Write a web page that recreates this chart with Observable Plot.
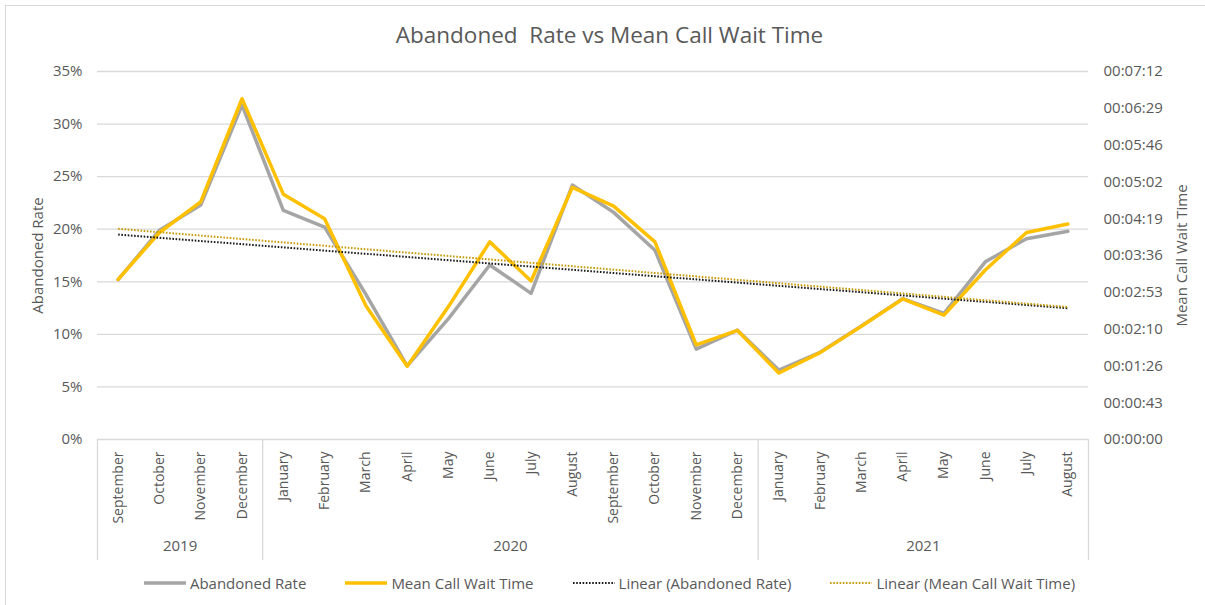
<!DOCTYPE html>
<html>
<head>
<meta charset="utf-8">
<script src="https://cdn.jsdelivr.net/npm/d3@7"></script>
<script src="https://cdn.jsdelivr.net/npm/@observablehq/plot@0.6"></script>
<style>
  html, body { margin: 0; padding: 0; background: #fff; }
  body { width: 1205px; height: 605px; position: relative; overflow: hidden; font-family: "Open Sans", sans-serif; color: #595959; }
  #frame { position: absolute; left: 5px; top: 5px; width: 1400px; height: 800px; border-left: 1.5px solid #d9d9d9; border-top: 1.5px solid #d9d9d9; }
  #title { position: absolute; left: 0; top: 20px; width: 1205px; padding-left: 14px; box-sizing: border-box; text-align: center; font-size: 22.5px; line-height: 30px; white-space: pre; }
  #chart { position: absolute; left: 0; top: 55px; }
  #legend { position: absolute; left: 0; top: 572px; width: 1205px; display: flex; justify-content: center; gap: 39px; font-size: 15px; line-height: 22px; padding-left: 14px; box-sizing: border-box; }
  .item { display: flex; align-items: center; gap: 4px; }
</style>
</head>
<body>
<div id="frame"></div>
<div id="title">Abandoned  Rate vs Mean Call Wait Time</div>
<div id="chart"></div>
<div id="legend"></div>
<script>
// ---- data ----
const monthNames = ["September","October","November","December",
  "January","February","March","April","May","June","July","August","September","October","November","December",
  "January","February","March","April","May","June","July","August"];
const monthYears = ["2019","2019","2019","2019",
  "2020","2020","2020","2020","2020","2020","2020","2020","2020","2020","2020","2020",
  "2021","2021","2021","2021","2021","2021","2021","2021"];
// Abandoned rate, percent
const abandonedRate = [15.2, 19.9, 22.3, 31.8,
  21.8, 20.2, 13.8, 7.0, 11.5, 16.6, 13.9, 24.2, 21.6, 18.0, 8.6, 10.4,
  6.6, 8.3, 10.8, 13.4, 12.0, 16.9, 19.1, 19.8];
// Mean call wait time, seconds
const waitSeconds = [188, 243, 279, 400,
  288, 259, 157, 86, 156, 232, 186, 296, 274, 232, 111, 128,
  78, 102, 133, 165, 146, 199, 243, 253];
const leftTicks = [0, 5, 10, 15, 20, 25, 30, 35];
const rightTickLabels = ["00:00:00","00:00:43","00:01:26","00:02:10","00:02:53","00:03:36",
  "00:04:19","00:05:02","00:05:46","00:06:29","00:07:12"];
const rightMaxSeconds = 432; // 00:07:12
const leftMax = 35;

// ---- derived ----
const toLeft = s => s / rightMaxSeconds * leftMax;
const data = monthNames.map((m, i) => ({i, month: m, year: monthYears[i], rate: abandonedRate[i], wait: toLeft(waitSeconds[i])}));
const rightTickValues = rightTickLabels.map((_, k) => k * leftMax / (rightTickLabels.length - 1));

function linreg(key) {
  const n = data.length;
  const mx = d3.mean(data, d => d.i), my = d3.mean(data, d => d[key]);
  const b = d3.sum(data, d => (d.i - mx) * (d[key] - my)) / d3.sum(data, d => (d.i - mx) ** 2);
  const a = my - b * mx;
  return [{i: 0, y: a}, {i: n - 1, y: a + b * (n - 1)}];
}
const trendRate = linreg("rate");
const trendWait = linreg("wait");

const groups = d3.groups(data, d => d.year).map(([year, rows]) => ({
  year, start: rows[0].i - 0.5, end: rows[rows.length - 1].i + 0.5,
  center: (rows[0].i + rows[rows.length - 1].i) / 2
}));
const boundaries = [groups[0].start, ...groups.map(g => g.end)];

const W = 1205, H = 510, mTop = 16, mBottom = 126, mLeft = 97, mRight = 117;
const plotH = H - mTop - mBottom;

const chart = Plot.plot({
  width: W, height: H,
  marginTop: mTop, marginBottom: mBottom, marginLeft: mLeft, marginRight: mRight,
  style: {fontFamily: "'Open Sans', sans-serif", color: "#595959", background: "transparent", overflow: "visible"},
  x: {type: "linear", domain: [-0.5, data.length - 0.5], axis: null},
  y: {domain: [0, leftMax], axis: null},
  marks: [
    Plot.ruleY(leftTicks, {stroke: "#d9d9d9", strokeWidth: 1.3}),
    Plot.ruleX(boundaries, {stroke: "#d9d9d9", strokeWidth: 1.3, insetTop: plotH, insetBottom: -121}),
    Plot.axisY(leftTicks, {anchor: "left", tickSize: 0, tickPadding: 15, tickFormat: d => d + "%", fontSize: 15, label: null}),
    Plot.axisY(rightTickValues, {anchor: "right", tickSize: 0, tickPadding: 15, fontSize: 15, label: null,
      tickFormat: d => rightTickLabels[rightTickValues.indexOf(d)], textAnchor: "start"}),
    Plot.axisX(data.map(d => d.i), {anchor: "bottom", tickSize: 0, tickPadding: 12, tickRotate: -90, fontSize: 14,
      tickFormat: i => monthNames[i], label: null}),
    Plot.text(groups, {x: "center", text: "year", frameAnchor: "bottom", dy: 111, fontSize: 15, fill: "#595959"}),
    Plot.text(["Abandoned Rate"], {frameAnchor: "left", textAnchor: "middle", dx: -59, rotate: -90, fontSize: 15, fill: "#595959"}),
    Plot.text(["Mean Call Wait Time"], {frameAnchor: "right", textAnchor: "middle", dx: 94, rotate: -90, fontSize: 15, fill: "#595959"}),
    Plot.line(data, {x: "i", y: "rate", stroke: "#A5A5A5", strokeWidth: 3.5, strokeLinejoin: "round"}),
    Plot.line(data, {x: "i", y: "wait", stroke: "#FFC000", strokeWidth: 3.5, strokeLinejoin: "round"}),
    Plot.line(trendRate, {x: "i", y: "y", stroke: "#1a1a1a", strokeWidth: 2, strokeDasharray: "1.6,1.6", strokeLinecap: "butt"}),
    Plot.line(trendWait, {x: "i", y: "y", stroke: "#C89B0A", strokeWidth: 2, strokeDasharray: "1.6,1.6", strokeLinecap: "butt"})
  ]
});
document.getElementById("chart").appendChild(chart);

// ---- legend ----
const legendItems = [
  {label: "Abandoned Rate", color: "#A5A5A5", dash: null, width: 3.5},
  {label: "Mean Call Wait Time", color: "#FFC000", dash: null, width: 3.5},
  {label: "Linear (Abandoned Rate)", color: "#1a1a1a", dash: "1.6,1.6", width: 2},
  {label: "Linear (Mean Call Wait Time)", color: "#C89B0A", dash: "1.6,1.6", width: 2}
];
const legend = d3.select("#legend");
for (const it of legendItems) {
  const el = legend.append("div").attr("class", "item");
  const svg = el.append("svg").attr("width", 42).attr("height", 12);
  svg.append("line").attr("x1", 0).attr("x2", 42).attr("y1", 6).attr("y2", 6)
    .attr("stroke", it.color).attr("stroke-width", it.width)
    .attr("stroke-dasharray", it.dash);
  el.append("span").text(it.label);
}
</script>
</body>
</html>
